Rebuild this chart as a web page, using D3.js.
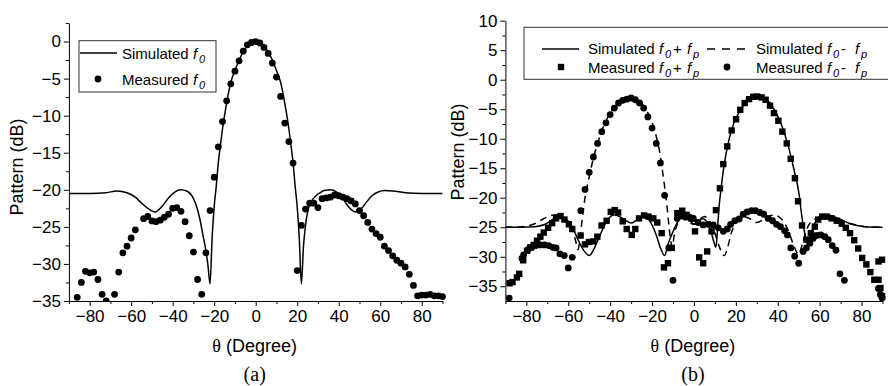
<!DOCTYPE html>
<html>
<head>
<meta charset="utf-8">
<script src="https://cdnjs.cloudflare.com/ajax/libs/d3/7.8.5/d3.min.js"></script>
<style>
  body { margin: 0; background: #fff; }
  svg { display: block; font-family: "Liberation Sans", Arial, sans-serif; }
</style>
</head>
<body>
<div id="chart"></div>
<script>
// ---- panel (a): f0 ----
const simF0Theta = [-90,-80,-72,-67,-62,-58,-55,-52,-48.5,-45,-42,-39,-36,-33,-31,-29,-27,-25.5,-24,-23,-22,-21,-20,-19,-18,-17,-16,-14,-12,-10,-8,-6,-4,-2,0,
  2,4,6,8,10,12,14,16,17,18,19,20,21,22,23,24,25,27,29,31,33,36,39,41,43,45,48.5,51,53,56,59,62,66,72,80,90];
const simF0Value = [-20.5,-20.5,-20.4,-20.15,-20.4,-21.0,-21.8,-22.5,-23.0,-22.2,-21.1,-20.3,-20.0,-20.2,-20.7,-21.8,-23.8,-26.0,-28.2,-30.2,-32.7,-26.5,-22.3,-19.5,-16.3,-14.0,-11.8,-8.3,-5.5,-3.9,-2.5,-1.4,-0.6,-0.15,0,
  -0.15,-0.6,-1.4,-2.5,-3.9,-5.5,-8.3,-11.8,-14.0,-16.3,-19.5,-22.3,-26.5,-32.7,-27.7,-24.8,-23.0,-21.5,-20.8,-20.4,-20.1,-20.0,-20.3,-20.8,-21.6,-22.4,-23.0,-22.5,-21.8,-20.8,-20.3,-20.1,-20.15,-20.4,-20.5,-20.5];

const measF0Theta = [-86,-84,-82,-80,-78,-76,-74,-72,-68,-66,-64,-62,-60,-58,-54,-52,-50,-48,-46,-44,-42,-40,-38,-36,-34,-32,-30,-28,-26,-24,-22,-20,-18,-16,-14,-12,-10,-8,-6,-4,-2,0,
  2,4,6,8,10,12,14,16,18,20,22,24,26,28,30,32,34,36,38,40,42,44,46,48,50,52,54,56,58,60,62,64,66,68,70,72,74,76,78,80,82,84,86,88,90];
const measF0Value = [-34.5,-32.5,-31.0,-31.2,-31.1,-32.1,-34.1,-35.0,-34.1,-31.1,-28.5,-27.6,-26.5,-25.4,-23.9,-23.6,-24.2,-24.3,-24.1,-23.7,-23.3,-22.5,-22.4,-22.9,-24.3,-26.2,-28.4,-32.1,-34.1,-28.5,-22.8,-18.3,-14.2,-10.8,-8.0,-5.7,-4.0,-2.6,-1.3,-0.45,-0.13,0,
  -0.2,-0.8,-1.6,-2.9,-4.8,-7.4,-11.0,-13.5,-16.4,-30.9,-24.8,-22.6,-21.8,-21.8,-22.4,-21.2,-21.1,-21.0,-20.7,-20.8,-21.0,-21.2,-21.5,-21.9,-22.8,-23.5,-24.4,-25.3,-25.9,-26.4,-27.6,-28.2,-28.9,-29.5,-29.9,-30.4,-31.4,-32.9,-34.3,-34.2,-34.2,-34.1,-34.3,-34.3,-34.4];

// ---- panel (b): f0+fp and f0-fp ----
const simSumTheta = [-90,-76,-71,-67,-64,-61,-58,-55.5,-52.5,-50,-47.5,-45,-42,-38,-34,-30,-27,-24,-21,-18,-16,-14,-12.5,-10.3,-8,-5,-2,0,2,4,6,8,9.5,10.5,11.3,12,12.7,14.3,16.7,19.1,22.3,25.5,29.5,33.4,37.4,41.4,44.6,47.8,50.1,51.6,53.2,54.2,55.5,57.7,60.9,63.3,68.9,75.3,81.7,90];
const simSumValue = [-25.0,-24.9,-24.5,-23.6,-23.2,-23.6,-25.0,-27.0,-29.0,-29.8,-28.5,-26.5,-24.2,-22.9,-23.5,-24.3,-23.7,-23.2,-24.0,-26.3,-28.5,-29.8,-28.0,-26.0,-24.2,-23.1,-23.8,-24.5,-24.2,-23.5,-24.0,-25.5,-27.5,-28.4,-25.0,-21.5,-19.2,-14.7,-10.2,-7.3,-5.1,-3.6,-2.8,-3.1,-4.5,-7.3,-10.7,-15.3,-19.2,-23.4,-26.5,-27.7,-26.5,-24.3,-23.0,-22.9,-23.5,-24.5,-24.9,-25.0];

const simDiffTheta = [-90,-82,-76,-72,-68,-66,-63,-60,-58,-56.5,-55.3,-54.3,-53.3,-52,-50,-48,-46,-44,-42,-40,-37,-34,-31,-28,-25,-22,-20,-18,-16,-14.5,-13,-12,-11,-10.3,-9.5,-8,-6,-4,-2,0,2,5,8,10,12,14.5,16,18,20,24,27,30,34,38,42,45,47.5,50,52,54,57,61,64,70,76,82,90];
const simDiffValue = [-25.0,-24.9,-24.4,-23.6,-23.0,-22.9,-23.3,-24.2,-25.4,-27.3,-28.8,-26.5,-23.5,-20.0,-16.5,-13.3,-10.8,-8.7,-7.0,-5.7,-4.3,-3.4,-3.0,-3.2,-4.0,-5.6,-7.2,-9.6,-13.0,-16.8,-21.0,-24.5,-27.5,-28.4,-26.5,-24.5,-23.5,-23.6,-24.2,-24.5,-23.9,-23.2,-24.3,-26.0,-28.2,-29.8,-28.5,-25.8,-24.2,-23.2,-23.6,-24.2,-23.5,-22.9,-23.7,-25.5,-28.0,-29.6,-27.5,-25.2,-23.8,-23.3,-23.3,-23.9,-24.5,-24.9,-25.0];

const measSumTheta = [-88,-86.6,-84.5,-83.4,-81.5,-79.7,-78.1,-76.5,-74.9,-73.3,-71.7,-69.6,-67.7,-65.8,-63.7,-61.8,-59.7,-58.1,-54.1,-52,-50.1,-48,-46.1,-44.1,-41.7,-39.7,-37.8,-36.2,-34,-32.1,-29.7,-28,-26.2,-23.8,-21.7,-19.4,-17.5,-15.4,-14.3,-12.4,-10.6,-7.9,-5.6,-3.5,-1.3,
  0.5,2.5,4.4,6.3,8.4,10.5,12.4,14,15.9,18,20.1,22.1,24.2,26.3,28.3,30.2,32.3,34.2,36.3,38.2,40.3,42.2,44.3,46.2,48.2,49.7,51.6,53.7,55.8,57.7,59.3,61.2,63.3,65.7,68.2,70.5,72.5,74.5,76.5,78.4,80.3,82.3,84.2,86.1,88.1,89,89.8,88.1,89.8];
const measSumValue = [-34.5,-34.3,-33.5,-32.9,-30.6,-29.0,-28.4,-28.0,-27.3,-26.6,-25.9,-25.1,-24.3,-23.5,-23.1,-23.7,-24.5,-25.3,-26.4,-27.9,-27.5,-27.4,-26.6,-24.7,-23.9,-22.4,-22.1,-22.5,-24.0,-25.3,-26.3,-25.3,-23.5,-23.0,-23.2,-23.5,-24.2,-26.0,-31.8,-31.1,-28.5,-22.6,-22.2,-22.9,-23.5,
  -25.7,-30.1,-31.1,-29.1,-25.7,-22.1,-18.4,-14.3,-11.3,-8.6,-6.7,-5.1,-3.95,-3.3,-2.9,-2.85,-3.0,-3.4,-4.4,-5.65,-6.95,-8.8,-10.8,-13.4,-16.7,-20.6,-24.7,-27.1,-26.0,-24.9,-23.7,-23.2,-23.2,-23.5,-23.9,-24.4,-25.1,-26.0,-27.2,-28.6,-30.2,-31.3,-32.6,-33.9,-33.9,-35.3,-36.7,-30.8,-30.5];

const measDiffTheta = [-88.2,-82.1,-81.3,-79.2,-77.3,-75.4,-73.3,-71.4,-69.3,-67.4,-65.8,-64,-61.9,-60,-58.1,-54,-52,-50,-48,-46,-44,-42,-40,-38,-36,-34,-32,-30,-28,-26,-24,-22,-20,-18,-16,-14,-12,-10,-8,-6,-4,-2,-0.3,
  2,4.4,6.8,9.2,11.6,14,15.9,17.5,19.5,21.6,23.5,25.4,27.5,29.4,31.4,33.3,35.4,37.5,39.4,41.3,43.3,44.6,46.2,48.1,50,52.1,53.7,55.3,56.9,58.5,60.6,62.5,64.1,66,67.8,69.7,71.8,88,89,89.8];
const measDiffValue = [-37.0,-30.3,-29.7,-28.8,-28.4,-28.1,-28.0,-28.0,-28.1,-28.4,-28.5,-29.5,-29.8,-31.9,-30.1,-22.2,-18.6,-15.7,-13.1,-10.8,-8.8,-7.3,-5.9,-4.8,-3.95,-3.5,-3.3,-3.1,-3.4,-3.95,-4.8,-6.3,-8.2,-10.8,-14.1,-19.6,-28.5,-34.0,-23.5,-23.0,-23.3,-23.3,-23.5,
  -24.2,-24.6,-24.5,-24.6,-25.1,-25.7,-25.3,-24.5,-23.9,-23.6,-22.8,-22.4,-22.2,-22.2,-22.5,-22.8,-23.5,-23.9,-24.5,-24.9,-25.6,-26.3,-28.5,-29.9,-31.1,-29.1,-28.5,-27.7,-26.9,-26.4,-26.3,-26.6,-27.1,-28.1,-28.9,-32.9,-34.0,-35.4,-36.4,-37.0];

// tick values
const xMajor = [-80,-60,-40,-20,0,20,40,60,80];
const xMinor = [-90,-70,-50,-30,-10,10,30,50,70,90];
const yMajorA = [-35,-30,-25,-20,-15,-10,-5,0];
const yMinorA = [-32.5,-27.5,-22.5,-17.5,-12.5,-7.5,-2.5,2.5];
const yMajorB = [-35,-30,-25,-20,-15,-10,-5,0,5,10];
const yMinorB = [-32.5,-27.5,-22.5,-17.5,-12.5,-7.5,-2.5,2.5,7.5];

const zip = (t, v) => t.map((d, i) => [d, v[i]]);

const svg = d3.select('#chart').append('svg')
  .attr('width', 888)
  .attr('height', 386);
svg.append('rect').attr('width', 888).attr('height', 386).attr('fill', '#fff');

const bottom = 301;

function drawPanel(opt) {
  const x = d3.scaleLinear().domain([-90, 90]).range(opt.xr);
  const y = d3.scaleLinear().domain(opt.yd).range([bottom, opt.yTop]);
  const g = svg.append('g');

  // clip for marks
  svg.append('clipPath').attr('id', opt.id)
    .append('rect')
    .attr('x', opt.xr[0]).attr('y', opt.yTop - 6)
    .attr('width', opt.xr[1] - opt.xr[0] + 6).attr('height', bottom - opt.yTop + 7);

  // axes
  const xAxis = g.append('g').attr('transform', `translate(0,${bottom})`)
    .call(d3.axisBottom(x).tickValues(xMajor).tickSize(5).tickSizeOuter(0).tickPadding(4).tickFormat(d3.format('d')));
  g.append('g').attr('transform', `translate(0,${bottom})`)
    .call(d3.axisBottom(x).tickValues(xMinor).tickSize(3).tickSizeOuter(0).tickFormat(''))
    .select('.domain').remove();
  const yAxis = g.append('g').attr('transform', `translate(${opt.xr[0]},0)`)
    .call(d3.axisLeft(y).tickValues(opt.yMajor).tickSize(5).tickSizeOuter(0).tickPadding(3).tickFormat(d3.format('d')));
  g.append('g').attr('transform', `translate(${opt.xr[0]},0)`)
    .call(d3.axisLeft(y).tickValues(opt.yMinor).tickSize(3).tickSizeOuter(0).tickFormat(''))
    .select('.domain').remove();

  g.selectAll('.tick text')
    .attr('font-size', 17)
    .attr('font-family', '"Liberation Sans", Arial, sans-serif')
    .attr('fill', '#000');
  g.selectAll('.tick line').attr('stroke', '#000');
  g.selectAll('.domain').attr('stroke', '#000');

  // axis titles
  const xt = g.append('text')
    .attr('x', (opt.xr[0] + opt.xr[1]) / 2 - 1)
    .attr('y', 352)
    .attr('text-anchor', 'middle')
    .attr('font-size', 18);
  xt.append('tspan').attr('font-family', '"Liberation Serif", "Times New Roman", serif').text('θ');
  xt.append('tspan').text(' (Degree)');

  g.append('text')
    .attr('transform', `translate(${opt.ytx},${opt.yty}) rotate(-90)`)
    .attr('text-anchor', 'middle')
    .attr('dy', '0.35em')
    .attr('font-size', 18)
    .text('Pattern (dB)');

  g.append('text')
    .attr('x', (opt.xr[0] + opt.xr[1]) / 2 - 1)
    .attr('y', 381)
    .attr('text-anchor', 'middle')
    .attr('font-family', '"Liberation Serif", "Times New Roman", serif')
    .attr('font-size', 20)
    .text(opt.tag);

  const marks = g.append('g').attr('clip-path', `url(#${opt.id})`);
  const line = d3.line().x(d => x(d[0])).y(d => y(d[1])).curve(d3.curveMonotoneX);
  return { x, y, marks, line };
}

// ---------- panel (a) ----------
const pa = drawPanel({
  id: 'clipA', xr: [68.9, 442.5], yd: [-35, 2.5], yTop: 23,
  yMajor: yMajorA, yMinor: yMinorA, ytx: 17, yty: 167, tag: '(a)'
});
pa.marks.append('path')
  .datum(zip(simF0Theta, simF0Value))
  .attr('d', pa.line)
  .attr('fill', 'none').attr('stroke', '#000').attr('stroke-width', 1.5);
pa.marks.selectAll('.dot')
  .data(zip(measF0Theta, measF0Value))
  .enter().append('circle')
  .attr('cx', d => pa.x(d[0])).attr('cy', d => pa.y(d[1]))
  .attr('r', 3.4).attr('fill', '#000');

// ---------- panel (b) ----------
const pb = drawPanel({
  id: 'clipB', xr: [505.4, 882.5], yd: [-37.5, 10], yTop: 20.7,
  yMajor: yMajorB, yMinor: yMinorB, ytx: 458, yty: 152, tag: '(b)'
});
pb.marks.append('path')
  .datum(zip(simSumTheta, simSumValue))
  .attr('d', pb.line)
  .attr('fill', 'none').attr('stroke', '#000').attr('stroke-width', 1.5);
pb.marks.append('path')
  .datum(zip(simDiffTheta, simDiffValue))
  .attr('d', pb.line)
  .attr('fill', 'none').attr('stroke', '#000').attr('stroke-width', 1.5)
  .attr('stroke-dasharray', '7,5');
pb.marks.selectAll('.sq')
  .data(zip(measSumTheta, measSumValue))
  .enter().append('rect')
  .attr('x', d => pb.x(d[0]) - 3.2).attr('y', d => pb.y(d[1]) - 3.2)
  .attr('width', 6.4).attr('height', 6.4).attr('fill', '#000');
pb.marks.selectAll('.dot')
  .data(zip(measDiffTheta, measDiffValue))
  .enter().append('circle')
  .attr('cx', d => pb.x(d[0])).attr('cy', d => pb.y(d[1]))
  .attr('r', 3.4).attr('fill', '#000');

// ---------- legends ----------
// label with italic f and subscript, offsets follow the picture
function fLabel(x, y, word, sub1, op, sub2) {
  const t = svg.append('g').attr('font-size', 15).attr('fill', '#000');
  t.append('text').attr('x', x).attr('y', y).text(word);
  t.append('text').attr('x', x + 71).attr('y', y).attr('font-style', 'italic').text('f');
  t.append('text').attr('x', x + 77).attr('y', y + 4).attr('font-size', 11).attr('font-style', 'italic').text(sub1);
  if (op) {
    t.append('text').attr('x', x + 85).attr('y', y).text(op);
    t.append('text').attr('x', x + 99).attr('y', y).attr('font-style', 'italic').text('f');
    t.append('text').attr('x', x + 105).attr('y', y + 4).attr('font-size', 11).attr('font-style', 'italic').text(sub2);
  }
}

// legend (a)
svg.append('rect').attr('x', 79).attr('y', 40.7).attr('width', 137).attr('height', 51.3)
  .attr('fill', '#fff').attr('stroke', '#333').attr('stroke-width', 1);
svg.append('line').attr('x1', 80).attr('x2', 117).attr('y1', 53).attr('y2', 53)
  .attr('stroke', '#000').attr('stroke-width', 1.5);
svg.append('circle').attr('cx', 98).attr('cy', 79).attr('r', 3.4).attr('fill', '#000');
fLabel(122, 59, 'Simulated', '0');
fLabel(122, 85, 'Measured', '0');

// legend (b)
svg.append('rect').attr('x', 524).attr('y', 27.3).attr('width', 372).attr('height', 52)
  .attr('fill', '#fff').attr('stroke', '#333').attr('stroke-width', 1);
svg.append('line').attr('x1', 542).attr('x2', 579).attr('y1', 49).attr('y2', 49)
  .attr('stroke', '#000').attr('stroke-width', 1.5);
svg.append('line').attr('x1', 707).attr('x2', 745).attr('y1', 49).attr('y2', 49)
  .attr('stroke', '#000').attr('stroke-width', 1.5).attr('stroke-dasharray', '8,7');
svg.append('rect').attr('x', 561 - 3.2).attr('y', 67 - 3.2).attr('width', 6.4).attr('height', 6.4).attr('fill', '#000');
svg.append('circle').attr('cx', 727).attr('cy', 67).attr('r', 3.4).attr('fill', '#000');
fLabel(588, 54, 'Simulated', '0', '+', 'p');
fLabel(756, 54, 'Simulated', '0', '-', 'p');
fLabel(588, 73, 'Measured', '0', '+', 'p');
fLabel(756, 73, 'Measured', '0', '-', 'p');
</script>
</body>
</html>
